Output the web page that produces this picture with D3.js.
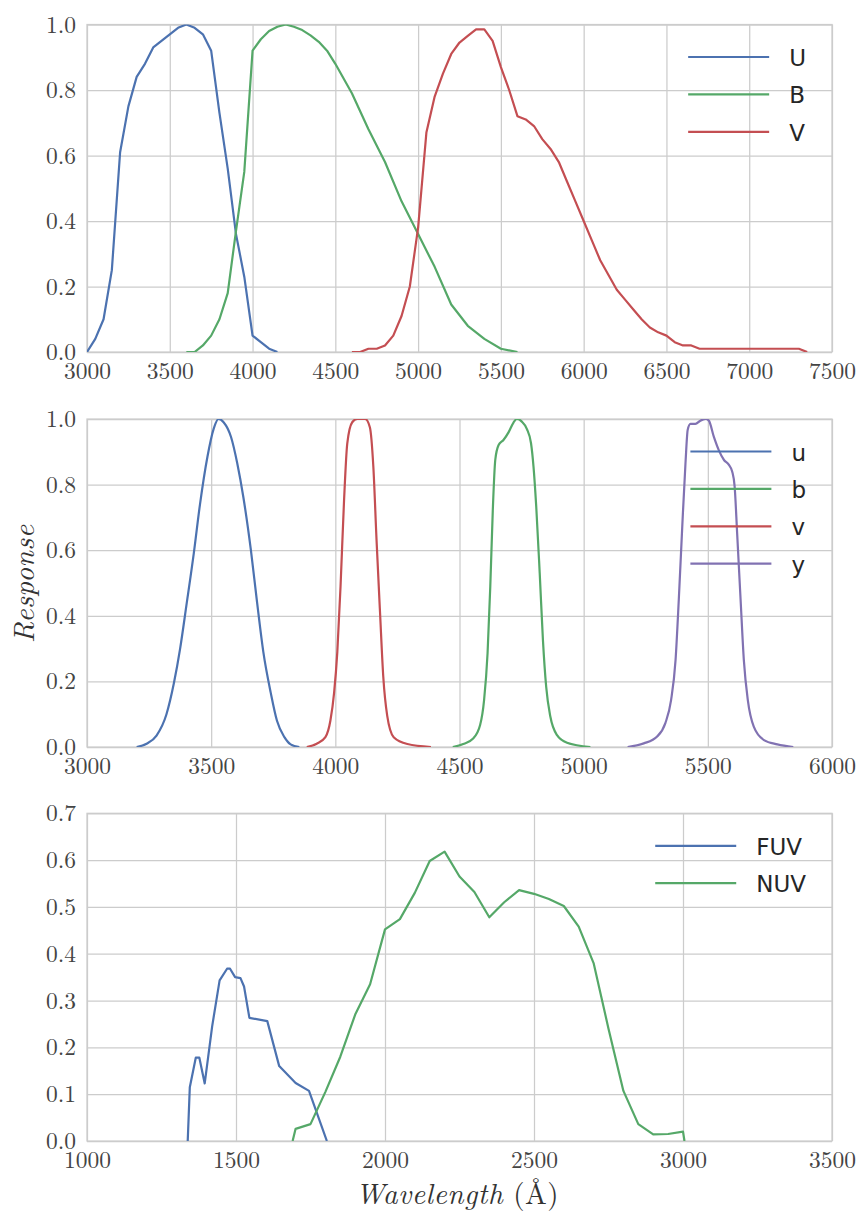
<!DOCTYPE html>
<html><head><meta charset="utf-8">
<script src="https://cdn.jsdelivr.net/npm/d3@7"></script>
<style>body{margin:0;background:#fff}</style>
</head><body><svg id="chart" width="859" height="1214"></svg>
<script>
// ---------- Johnson UBV ----------
const U_wave = [3000,3050,3100,3150,3200,3250,3300,3350,3400,3450,3500,3550,3600,3650,3700,3750,3800,3850,3900,3950,4000,4050,4100,4150];
const U_resp = [0.00,0.04,0.10,0.25,0.61,0.75,0.84,0.88,0.93,0.95,0.97,0.99,1.00,0.99,0.97,0.92,0.73,0.56,0.36,0.23,0.05,0.03,0.01,0.00];
const B_wave = [3600,3650,3700,3750,3800,3850,3900,3950,4000,4050,4100,4150,4200,4250,4300,4350,4400,4450,4500,4600,4700,4800,4900,5000,5100,5200,5300,5400,5500,5600];
const B_resp = [0.00,0.00,0.02,0.05,0.10,0.18,0.37,0.55,0.92,0.955,0.98,0.993,1.00,0.993,0.983,0.967,0.947,0.92,0.88,0.79,0.68,0.58,0.46,0.36,0.26,0.145,0.08,0.04,0.01,0.00];
const V_wave = [4600,4650,4700,4750,4800,4850,4900,4950,5000,5050,5100,5150,5200,5250,5300,5350,5400,5450,5500,5550,5600,5650,5700,5750,5800,5850,5900,5950,6000,6050,6100,6150,6200,6250,6300,6350,6400,6450,6500,6550,6600,6650,6700,7300,7350];
const V_resp = [0.00,0.00,0.01,0.01,0.02,0.05,0.11,0.20,0.38,0.67,0.78,0.85,0.91,0.945,0.965,0.985,0.985,0.95,0.87,0.80,0.72,0.71,0.69,0.65,0.62,0.58,0.52,0.46,0.40,0.34,0.28,0.235,0.19,0.16,0.13,0.10,0.075,0.06,0.05,0.03,0.02,0.02,0.01,0.01,0.00];

// ---------- Stromgren uvby ----------
const u_wave = [3200,3240,3280,3320,3350,3375,3400,3430,3455,3485,3510,3530,3550,3580,3605,3630,3660,3685,3710,3740,3765,3795,3820,3855];
const u_resp = [0.0,0.01,0.035,0.10,0.195,0.30,0.43,0.59,0.74,0.885,0.97,1.0,0.99,0.945,0.865,0.76,0.60,0.44,0.29,0.165,0.08,0.03,0.008,0.0];
const b_wave = [4473,4515,4555,4583,4599,4613,4624,4634,4644,4657,4677,4698,4718,4731,4751,4771,4788,4798,4809,4823,4836,4849,4866,4892,4933,5027];
const b_resp = [0.0,0.009,0.026,0.067,0.143,0.286,0.49,0.72,0.875,0.92,0.936,0.96,0.99,1.0,0.992,0.97,0.926,0.855,0.733,0.53,0.326,0.184,0.092,0.037,0.013,0.0];
const v_wave = [3885,3925,3960,3980,3995,4008,4021,4035,4048,4068,4088,4120,4139,4153,4166,4180,4193,4209,4235,4290,4385];
const v_resp = [0.0,0.01,0.03,0.08,0.165,0.29,0.49,0.75,0.925,0.99,1.0,1.0,0.975,0.855,0.63,0.41,0.215,0.095,0.03,0.009,0.0];
const y_wave = [5177,5242,5296,5329,5352,5370,5383,5397,5410,5419,5430,5450,5470,5491,5504,5524,5544,5565,5585,5598,5608,5618,5632,5645,5661,5685,5726,5780,5844];
const y_resp = [0.0,0.011,0.032,0.073,0.143,0.265,0.448,0.672,0.865,0.967,0.985,0.985,0.995,1.0,0.995,0.946,0.905,0.875,0.86,0.84,0.794,0.652,0.448,0.265,0.143,0.062,0.021,0.008,0.0];

// ---------- GALEX ----------
const FUV_wave = [1338,1345,1365,1377,1395,1420,1445,1470,1480,1497,1515,1527,1545,1605,1645,1700,1745,1805];
const FUV_resp = [0.0,0.115,0.178,0.178,0.123,0.245,0.343,0.368,0.368,0.35,0.348,0.33,0.263,0.256,0.16,0.124,0.107,0.0];
const NUV_wave = [1690,1700,1750,1800,1850,1900,1950,2000,2050,2100,2150,2200,2250,2300,2350,2400,2450,2500,2550,2600,2650,2700,2750,2800,2850,2900,2950,3000,3005];
const NUV_resp = [0.0,0.026,0.036,0.105,0.18,0.27,0.335,0.452,0.474,0.53,0.598,0.618,0.565,0.532,0.478,0.51,0.536,0.528,0.517,0.502,0.458,0.38,0.24,0.107,0.036,0.014,0.015,0.02,0.0];

// ---------- ticks ----------
const ubvXTicks = [3000,3500,4000,4500,5000,5500,6000,6500,7000,7500];
const uvbyXTicks = [3000,3500,4000,4500,5000,5500,6000];
const galexXTicks = [1000,1500,2000,2500,3000,3500];
const unitYTicks = [0.0,0.2,0.4,0.6,0.8,1.0];
const galexYTicks = [0.0,0.1,0.2,0.3,0.4,0.5,0.6,0.7];

const C = {blue:"#4C72B0", green:"#55A868", red:"#C44E52", purple:"#8172B2"};
const zip = (w, r) => w.map((d, i) => [d, r[i]]);

const panels = [
  {top:24.5, bottom:352, xDomain:[3000,7500], yDomain:[0,1], xTicks:ubvXTicks, yTicks:unitYTicks, smooth:false,
   series:[{name:"U", data:zip(U_wave,U_resp), color:C.blue},
           {name:"B", data:zip(B_wave,B_resp), color:C.green},
           {name:"V", data:zip(V_wave,V_resp), color:C.red}]},
  {top:419, bottom:747, xDomain:[3000,6000], yDomain:[0,1], xTicks:uvbyXTicks, yTicks:unitYTicks, smooth:true,
   series:[{name:"u", data:zip(u_wave,u_resp), color:C.blue},
           {name:"b", data:zip(b_wave,b_resp), color:C.green},
           {name:"v", data:zip(v_wave,v_resp), color:C.red},
           {name:"y", data:zip(y_wave,y_resp), color:C.purple}]},
  {top:813.3, bottom:1141, xDomain:[1000,3500], yDomain:[0,0.7], xTicks:galexXTicks, yTicks:galexYTicks, smooth:false,
   series:[{name:"FUV", data:zip(FUV_wave,FUV_resp), color:C.blue},
           {name:"NUV", data:zip(NUV_wave,NUV_resp), color:C.green}]}
];

const svg = d3.select("#chart");
const L = 87, R = 832;
const tickFont = "Latin Modern Roman, Liberation Serif, serif";
const gridColor = "#cccccc";

panels.forEach((p, pi) => {
  const x = d3.scaleLinear().domain(p.xDomain).range([L, R]);
  const y = d3.scaleLinear().domain(p.yDomain).range([p.bottom, p.top]);
  const g = svg.append("g");

  const xa = g.append("g").attr("transform", `translate(0,${p.bottom})`)
    .call(d3.axisBottom(x).tickValues(p.xTicks).tickFormat(d3.format("d"))
      .tickSize(-(p.bottom - p.top)).tickPadding(10.5));
  const ya = g.append("g").attr("transform", `translate(${L},0)`)
    .call(d3.axisLeft(y).tickValues(p.yTicks).tickFormat(d3.format(".1f"))
      .tickSize(-(R - L)).tickPadding(11));
  [xa, ya].forEach(a => {
    a.attr("font-family", tickFont).attr("font-size", 23.5);
    a.select(".domain").remove();
    a.selectAll("line").attr("stroke", gridColor).attr("stroke-width", 1.25);
    a.selectAll("text").attr("fill", "#444").attr("font-family", tickFont).attr("font-size", 23.5);
  });

  g.append("rect").attr("x", L).attr("y", p.top).attr("width", R - L).attr("height", p.bottom - p.top)
    .attr("fill", "none").attr("stroke", gridColor).attr("stroke-width", 1.25);

  const clipId = "clip" + pi;
  svg.append("clipPath").attr("id", clipId).append("rect")
    .attr("x", L).attr("y", p.top).attr("width", R - L).attr("height", p.bottom - p.top);

  const line = d3.line().x(d => x(d[0])).y(d => y(d[1]))
    .curve(p.smooth ? d3.curveMonotoneX : d3.curveLinear);
  g.append("g").attr("clip-path", `url(#${clipId})`).selectAll("path").data(p.series).join("path")
    .attr("d", s => line(s.data)).attr("fill", "none").attr("stroke", s => s.color)
    .attr("stroke-width", 2.2).attr("stroke-linejoin", "round").attr("stroke-linecap", "butt");

  // legend
  const lg = g.append("g");
  const texts = lg.selectAll("text").data(p.series).join("text")
    .text(s => s.name)
    .attr("font-family", "DejaVu Sans, sans-serif").attr("font-size", 23).attr("fill", "#262626");
  let maxW = 0;
  texts.each(function () { maxW = Math.max(maxW, this.getComputedTextLength()); });
  const tx = 806 - maxW, lx2 = tx - 20, lx1 = lx2 - 81;
  texts.attr("x", tx).attr("y", (s, i) => p.top + 32.5 + i * 37.4 + 9);
  lg.selectAll("line").data(p.series).join("line")
    .attr("x1", lx1).attr("x2", lx2)
    .attr("y1", (s, i) => p.top + 32.5 + i * 37.4).attr("y2", (s, i) => p.top + 32.5 + i * 37.4)
    .attr("stroke", s => s.color).attr("stroke-width", 2.2);
});

// axis labels
svg.append("text").attr("transform", "translate(34,584) rotate(-90)")
  .attr("text-anchor", "middle").attr("fill", "#333")
  .attr("font-family", tickFont).attr("font-size", 29).attr("font-style", "italic")
  .attr("textLength", 118).attr("lengthAdjust", "spacing")
  .text("Response");

const xl = svg.append("text").attr("x", 457).attr("y", 1204).attr("text-anchor", "middle").attr("fill", "#333")
  .attr("font-family", tickFont).attr("font-size", 29)
  .attr("textLength", 203).attr("lengthAdjust", "spacing");
xl.append("tspan").attr("font-style", "italic").text("Wavelength");
xl.append("tspan").text(" (Å)");
</script></body></html>
